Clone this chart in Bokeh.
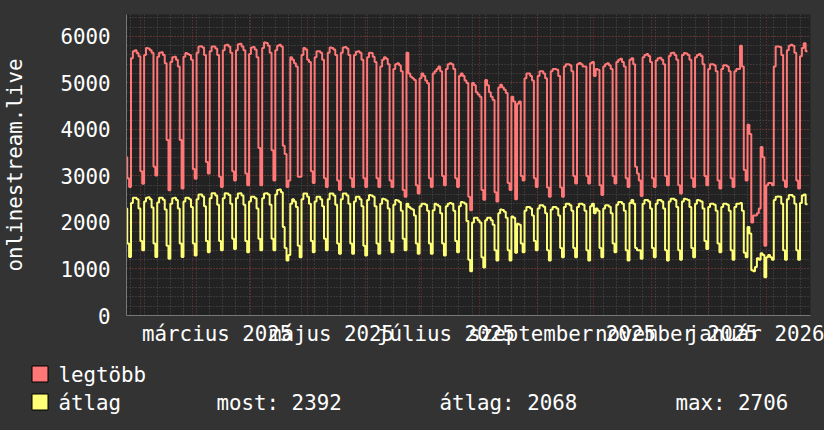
import numpy as np
from bokeh.plotting import figure
from bokeh.models import FixedTicker, Range1d, GlobalInlineStyleSheet
from bokeh.layouts import column
from bokeh.embed import file_html
from bokeh.resources import INLINE
from bokeh.core.properties import value

# day index: 0 = 2025-01-01. Data starts Friday 2025-01-24 (day 23)
START_DAY = 23
# each row: Sat, Sun, Mon, Tue, Wed, Thu, Fri
legtobb_first = [3400]
legtobb_weeks = [
    [2950, 2760, 5530, 5680, 5700, 5640, 5570],
    [3100, 2830, 5600, 5750, 5740, 5700, 5650],
    [3200, 3010, 5560, 5650, 5660, 5600, 5420],
    [3770, 2690, 5450, 5550, 5560, 5500, 5350],
    [3770, 2730, 5560, 5640, 5620, 5600, 5500],
    [3150, 2940, 5650, 5780, 5790, 5760, 5600],
    [3300, 3050, 5680, 5780, 5780, 5740, 5600],
    [2980, 2760, 5700, 5810, 5820, 5780, 5650],
    [3100, 2900, 5700, 5830, 5840, 5780, 5700],
    [3050, 2800, 5620, 5760, 5770, 5720, 5550],
    [3600, 2800, 5750, 5870, 5860, 5800, 5650],
    [3550, 2900, 5700, 5800, 5820, 5780, 3650],
    [3470, 2760, 2900, 5550, 5500, 5420, 5350],
    [2980, 2980, 5600, 5750, 5720, 5500, 5450],
    [3100, 2850, 5550, 5680, 5680, 5650, 5500],
    [2950, 2760, 5650, 5760, 5750, 5720, 5600],
    [2900, 2700, 5650, 5760, 5770, 5740, 5600],
    [2950, 2760, 5600, 5670, 5680, 5650, 5500],
    [2950, 2760, 5550, 5650, 5640, 5560, 5450],
    [2950, 2760, 5350, 5500, 5550, 5520, 5400],
    [2900, 2760, 5300, 5400, 5420, 5380, 5250],
    [2700, 2550, 5650, 5200, 5130, 5100, 5060],
    [2800, 2620, 5100, 5200, 5150, 5050, 4990],
    [2950, 2760, 5200, 5250, 5300, 5350, 5250],
    [3000, 2800, 5300, 5400, 5420, 5400, 5300],
    [2950, 2760, 5150, 5200, 5150, 5050, 5000],
    [2550, 2260, 5000, 4950, 4800, 4750, 4700],
    [2700, 2490, 5060, 4950, 4800, 4700, 4630],
    [2650, 2450, 4900, 4960, 4900, 4850, 4780],
    [2850, 2700, 4700, 4600, 2500, 4550, 4600],
    [3000, 2900, 5100, 5200, 5200, 5150, 5050],
    [2950, 2760, 5150, 5250, 5250, 5200, 5100],
    [2750, 2550, 5250, 5300, 5300, 5280, 5150],
    [2750, 2550, 5350, 5400, 5400, 5380, 5250],
    [3000, 2840, 5400, 5430, 5400, 5350, 5350],
    [3000, 2840, 5420, 5450, 5150, 5300, 5280],
    [2800, 2590, 5350, 5400, 5420, 5380, 5300],
    [3000, 2840, 5450, 5500, 5520, 5450, 5350],
    [2950, 2760, 5500, 5530, 5400, 3200, 3050],
    [2900, 2570, 5550, 5600, 5620, 5580, 5450],
    [2950, 2760, 5480, 5530, 5540, 5500, 5400],
    [3000, 2800, 5580, 5640, 5650, 5600, 5500],
    [2800, 2620, 5600, 5640, 5630, 5600, 5500],
    [2950, 2760, 5550, 5600, 5620, 5580, 5400],
    [3000, 2800, 5300, 5400, 5400, 5380, 5250],
    [2900, 2730, 5300, 5380, 5380, 5350, 5250],
    [2950, 2760, 5250, 5300, 5300, 5800, 5350],
    [3130, 2900, 4100, 3900, 2000, 2150, 2150],
    [2200, 2300, 3620, 3400, 1500, 2800, 2850],
    [2850, 2800, 5350, 5780, 5780, 5770, 5600],
    [2900, 2760, 5700, 5800, 5820, 5800, 5650],
    [2900, 2730, 5570, 5750, 5850, 5680],
]
atlag_first = [2300]
atlag_weeks = [
    [1550, 1260, 2420, 2530, 2530, 2500, 2300],
    [1600, 1400, 2450, 2530, 2540, 2500, 2320],
    [1550, 1260, 2430, 2530, 2530, 2490, 2280],
    [1500, 1220, 2400, 2520, 2530, 2480, 2300],
    [1550, 1260, 2450, 2530, 2530, 2500, 2330],
    [1550, 1290, 2500, 2600, 2600, 2560, 2350],
    [1600, 1360, 2520, 2630, 2630, 2580, 2380],
    [1600, 1400, 2520, 2630, 2620, 2590, 2400],
    [1650, 1430, 2520, 2620, 2630, 2580, 2380],
    [1600, 1360, 2450, 2550, 2550, 2520, 2300],
    [1650, 1400, 2520, 2620, 2630, 2600, 2380],
    [1650, 1400, 2600, 2700, 2706, 2650, 1900],
    [1450, 1180, 1300, 2400, 2500, 2450, 2330],
    [1500, 1250, 2500, 2620, 2620, 2550, 2400],
    [1600, 1360, 2450, 2550, 2550, 2500, 2350],
    [1650, 1400, 2500, 2620, 2620, 2580, 2380],
    [1550, 1330, 2500, 2620, 2620, 2580, 2400],
    [1550, 1330, 2450, 2550, 2550, 2500, 2350],
    [1500, 1290, 2480, 2590, 2580, 2550, 2350],
    [1550, 1330, 2400, 2510, 2500, 2470, 2300],
    [1600, 1360, 2380, 2480, 2470, 2440, 2250],
    [1650, 1400, 2400, 2330, 2300, 2280, 2150],
    [1550, 1330, 2350, 2400, 2400, 2380, 2250],
    [1550, 1330, 2260, 2400, 2380, 2350, 2200],
    [1550, 1290, 2350, 2400, 2420, 2400, 2250],
    [1600, 1360, 2350, 2440, 2430, 2400, 2030],
    [1200, 950, 2000, 2100, 2100, 2050, 2000],
    [1250, 1030, 2050, 2100, 2100, 2050, 1950],
    [1400, 1180, 2200, 2280, 2270, 2230, 2100],
    [1400, 1180, 2130, 2100, 1350, 1970, 1950],
    [1550, 1360, 2250, 2330, 2330, 2300, 2150],
    [1600, 1400, 2300, 2370, 2370, 2340, 2200],
    [1400, 1180, 2280, 2330, 2330, 2300, 2150],
    [1450, 1250, 2330, 2400, 2400, 2370, 2250],
    [1450, 1250, 2330, 2400, 2400, 2380, 2250],
    [1400, 1180, 2350, 2400, 2200, 2300, 2250],
    [1450, 1250, 2300, 2370, 2370, 2340, 2200],
    [1550, 1360, 2380, 2440, 2440, 2400, 2250],
    [1400, 1180, 2420, 2480, 2400, 1450, 1400],
    [1400, 1220, 2400, 2480, 2480, 2450, 2300],
    [1450, 1250, 2400, 2480, 2480, 2450, 2300],
    [1400, 1180, 2450, 2510, 2510, 2480, 2330],
    [1400, 1200, 2450, 2510, 2500, 2480, 2330],
    [1450, 1250, 2400, 2480, 2470, 2450, 2300],
    [1600, 1430, 2330, 2400, 2400, 2380, 2250],
    [1550, 1360, 2330, 2400, 2400, 2380, 2250],
    [1400, 1200, 2330, 2400, 2400, 2420, 2250],
    [1350, 1250, 1900, 1760, 970, 950, 1040],
    [1230, 1200, 1340, 1300, 820, 1250, 1300],
    [1250, 1200, 2480, 2550, 2560, 2550, 2400],
    [1400, 1200, 2500, 2590, 2590, 2560, 2400],
    [1400, 1200, 2420, 2580, 2600, 2392],
]

month_start_days = [31, 59, 90, 120, 151, 181, 212, 243, 273, 304, 334, 365]
label_month_days = [59, 120, 181, 243, 304, 365]
month_labels = ["március 2025", "május 2025", "július 2025",
                "szeptember 2025", "november 2025", "január 2026"]
legend_names = ["legtöbb", "átlag"]
legend_stats = ["most: 2392", "átlag: 2068", "max: 2706"]

legtobb = legtobb_first + [v for w in legtobb_weeks for v in w]
atlag = atlag_first + [v for w in atlag_weeks for v in w]
x = list(range(START_DAY, START_DAY + len(legtobb)))
xs = x + [x[-1] + 1]
red_y = legtobb + [legtobb[-1]]
yel_y = atlag + [atlag[-1]]

FONT = "DejaVu Sans Mono"
FS = "20.8px"
BG = "#333333"
CANVAS = "#222222"
RED = "#ff7777"
YEL = "#ffff77"

X0, X1 = 23.6, 388.6
Y1 = 6470
p = figure(width=824, height=350, output_backend="svg", toolbar_location=None,
           x_range=Range1d(X0, X1), y_range=Range1d(0, Y1),
           min_border_left=124, min_border_right=14, min_border_top=14,
           min_border_bottom=35)
p.frame_align = False
p.background_fill_color = CANVAS
p.border_fill_color = BG
p.outline_line_color = None

mondays = list(range(26, 389, 7))
p.xgrid.ticker = FixedTicker(ticks=month_start_days, minor_ticks=mondays)
p.xgrid.grid_line_color = "#8a3030"
p.xgrid.grid_line_dash = "1 2"
p.xgrid.minor_grid_line_color = "#505050"
p.xgrid.minor_grid_line_dash = "1 2"
p.ygrid.ticker = FixedTicker(ticks=list(range(0, 6001, 1000)),
                             minor_ticks=list(range(0, Y1, 200)))
p.ygrid.grid_line_color = "#8a3030"
p.ygrid.grid_line_dash = "1 2"
p.ygrid.minor_grid_line_color = "#505050"
p.ygrid.minor_grid_line_dash = "1 2"

p.step(xs, red_y, mode="after", line_color=RED, line_width=2)
p.step(xs, yel_y, mode="after", line_color=YEL, line_width=2)

label_pos = [d + 13 for d in label_month_days]
p.xaxis.ticker = FixedTicker(ticks=label_pos)
p.xaxis.major_label_overrides = {pos: lab for pos, lab in zip(label_pos, month_labels)}
p.yaxis.ticker = FixedTicker(ticks=list(range(0, 6001, 1000)))
for ax in (p.xaxis[0], p.yaxis[0]):
    ax.major_label_text_font = FONT
    ax.major_label_text_font_size = FS
    ax.major_label_text_color = "#ffffff"
    ax.major_tick_line_color = None
    ax.minor_tick_line_color = None
    ax.axis_line_color = "#777777"
    ax.major_tick_out = 0
    ax.major_tick_in = 0
p.xaxis.major_label_standoff = 6
p.yaxis.major_label_standoff = 16
p.yaxis.axis_label = "onlinestream.live"
p.yaxis.axis_label_text_font = FONT
p.yaxis.axis_label_text_font_size = FS
p.yaxis.axis_label_text_font_style = "normal"
p.yaxis.axis_label_text_color = "#ffffff"
p.yaxis.axis_label_standoff = 30

# legend area: x and y in page pixels
lg = figure(width=824, height=80, output_backend="svg", toolbar_location=None,
            x_range=Range1d(0, 824), y_range=Range1d(430, 350),
            min_border=0, x_axis_type=None, y_axis_type=None)
lg.frame_align = False
lg.background_fill_color = BG
lg.border_fill_color = BG
lg.outline_line_color = None
lg.grid.visible = False
lg.quad(left=[31.5, 31.5], right=[47.5, 47.5], top=[365.5, 393.5], bottom=[381.5, 409.5],
        fill_color=[RED, YEL], line_color="#000000", line_width=1)
lg.text(x=[58, 58, 216, 439, 675], y=[374, 402, 402, 402, 402],
        text=legend_names + legend_stats,
        text_font=value(FONT), text_font_size=FS, text_color="#ffffff",
        text_baseline="middle", text_align="left")

layout = column(p, lg, spacing=0,
                stylesheets=[GlobalInlineStyleSheet(css="html, body {margin:0; padding:0; background:#333333; overflow:hidden;}")])
open("out.html", "w").write(file_html(layout, INLINE))
